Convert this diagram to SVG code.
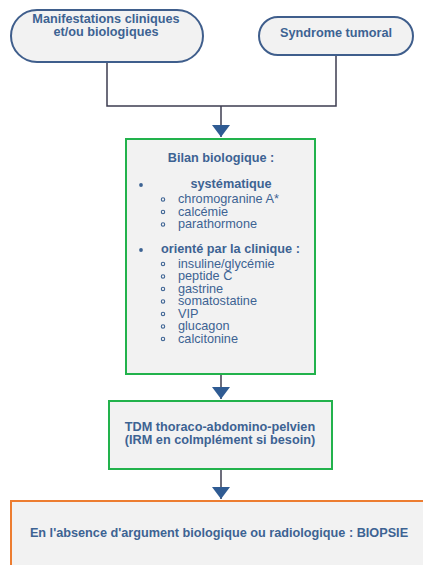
<svg xmlns="http://www.w3.org/2000/svg" width="423" height="565" viewBox="0 0 423 565">
<defs>
<style>
.t{font-family:"Liberation Sans",Arial,sans-serif;font-size:12.7px;fill:#3d6393;}
.b{font-weight:bold;}
.m{text-anchor:middle;}
.pill{fill:#f2f2f2;stroke:#3f5e8c;stroke-width:2;}
.gbox{fill:#f2f2f2;stroke:#22b24c;stroke-width:2;}
.obox{fill:#f2f2f2;stroke:#ed7d31;stroke-width:2;}
.con{fill:none;stroke:#3c3c50;stroke-width:1.5;}
.arr{marker-end:url(#ah);}
.dot{fill:#3d6393;}
.ring{fill:none;stroke:#3d6393;stroke-width:1.1;}
</style>
<marker id="ah" markerUnits="userSpaceOnUse" viewBox="0 0 12 18" markerWidth="12" markerHeight="18" refX="12" refY="9" orient="auto">
<path d="M0,0 L12,9 L0,18 Z" fill="#2f5b93"/>
</marker>
</defs>
<rect width="423" height="565" fill="#ffffff"/>

<g id="connectors">
<path class="con" d="M107,62 V106 H336 V55"/>
<line class="con arr" x1="221" y1="106" x2="221" y2="137"/>
<line class="con arr" x1="221" y1="375" x2="221" y2="399"/>
<line class="con arr" x1="221" y1="470" x2="221" y2="499"/>
</g>

<g id="manifestations">
<rect class="pill" x="11" y="10" width="192" height="52" rx="26" ry="26"/>
<text class="t b m" x="106" y="23">Manifestations cliniques</text>
<text class="t b m" x="106" y="36">et/ou biologiques</text>
</g>

<g id="syndrome">
<rect class="pill" x="259" y="17" width="154" height="38" rx="19" ry="19"/>
<text class="t b m" x="336" y="37">Syndrome tumoral</text>
</g>

<g id="bilan">
<rect class="gbox" x="126" y="139" width="189" height="235"/>
<text class="t b m" x="221" y="162">Bilan biologique :</text>
<circle class="dot" cx="141" cy="185" r="1.9"/>
<text class="t b m" x="231" y="188">systématique</text>
<circle class="ring" cx="163" cy="199.5" r="1.7"/>
<text class="t" x="178" y="203">chromogranine A*</text>
<circle class="ring" cx="163" cy="212" r="1.7"/>
<text class="t" x="178" y="215.5">calcémie</text>
<circle class="ring" cx="163" cy="224.5" r="1.7"/>
<text class="t" x="178" y="228">parathormone</text>
<circle class="dot" cx="141" cy="250" r="1.9"/>
<text class="t b" x="161" y="253">orienté par la clinique :</text>
<circle class="ring" cx="163" cy="264" r="1.7"/>
<text class="t" x="178" y="267.5">insuline/glycémie</text>
<circle class="ring" cx="163" cy="276.5" r="1.7"/>
<text class="t" x="178" y="280">peptide C</text>
<circle class="ring" cx="163" cy="289" r="1.7"/>
<text class="t" x="178" y="292.5">gastrine</text>
<circle class="ring" cx="163" cy="301.5" r="1.7"/>
<text class="t" x="178" y="305">somatostatine</text>
<circle class="ring" cx="163" cy="314" r="1.7"/>
<text class="t" x="178" y="317.5">VIP</text>
<circle class="ring" cx="163" cy="326.5" r="1.7"/>
<text class="t" x="178" y="330">glucagon</text>
<circle class="ring" cx="163" cy="339" r="1.7"/>
<text class="t" x="178" y="342.5">calcitonine</text>
</g>

<g id="tdm">
<rect class="gbox" x="109" y="401" width="223" height="68"/>
<text class="t b m" x="220" y="431">TDM thoraco-abdomino-pelvien</text>
<text class="t b m" x="220" y="444">(IRM en colmplément si besoin)</text>
</g>

<g id="biopsie">
<rect class="obox" x="11" y="501" width="420" height="80"/>
<text class="t b m" x="219" y="537">En l'absence d'argument biologique ou radiologique : BIOPSIE</text>
</g>
</svg>
